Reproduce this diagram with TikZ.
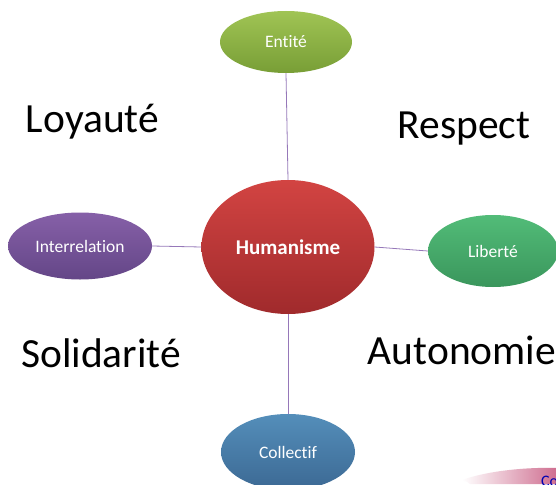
\documentclass[tikz,border=0pt]{standalone}
\usepackage{fontspec}
\setmainfont[Ligatures=NoCommon]{Carlito}
\usetikzlibrary{shapes.geometric}
\definecolor{linec}{RGB}{150,120,185}
\begin{document}
\begin{tikzpicture}[x=1pt,y=-1pt,
  bub/.style={ellipse,inner sep=0pt,text=white,font=\fontsize{17.5}{20}\selectfont},
  conn/.style={draw=linec,line width=0.8pt},
  big/.style={anchor=base,font=\fontsize{41.5}{46}\selectfont,text=black,inner sep=0pt}]
\useasboundingbox[fill=white] (0,0) rectangle (556,484);
\begin{scope}
\clip (0,0) rectangle (556,484);
% swoosh bottom right
\shade[left color=white,right color={rgb,255:red,205;green,105;blue,140}]
  (462,480) .. controls (490,470) and (530,467) .. (560,468) -- (560,484) -- (470,484) .. controls (468,482) .. (462,480);
\node[anchor=base west,inner sep=0pt,text=blue!70!black,font=\fontsize{16}{18}\selectfont] (co) at (541,486) {Co};
\node[bub,minimum width=132pt,minimum height=62pt,top color={rgb,255:red,160;green,196;blue,84},bottom color={rgb,255:red,120;green,158;blue,54}] (ent) at (286,42) {Entité};
\node[bub,minimum width=173pt,minimum height=134pt,top color={rgb,255:red,210;green,68;blue,66},bottom color={rgb,255:red,160;green,42;blue,44},
  font=\fontsize{21}{24}\selectfont\bfseries] (hum) at (288,247) {Humanisme};
\node[bub,minimum width=144pt,minimum height=67pt,top color={rgb,255:red,134;green,96;blue,168},bottom color={rgb,255:red,100;green,70;blue,135}] (int) at (80,246) {Interrelation};
\node[bub,minimum width=130pt,minimum height=72pt,top color={rgb,255:red,82;green,188;blue,120},bottom color={rgb,255:red,58;green,150;blue,92}] (lib) at (493,251) {Liberté};
\node[bub,minimum width=134pt,minimum height=76pt,top color={rgb,255:red,84;green,142;blue,186},bottom color={rgb,255:red,60;green,105;blue,148}] (col) at (288,452) {Collectif};
\draw[conn] (ent.south) -- (hum.north);
\draw[conn] (hum.west) -- (int.east);
\draw[conn] (hum.east) -- (lib.west);
\draw[conn] (hum.south) -- (col.north);
\node[big] (loy) at (92.5,132) {Loyauté};
\node[big] (res) at (464,138) {Respect};
\node[big] (sol) at (101,367) {Solidarité};
\node[big] (aut) at (462,364) {Autonomie};
\end{scope}
\end{tikzpicture}
\end{document}
